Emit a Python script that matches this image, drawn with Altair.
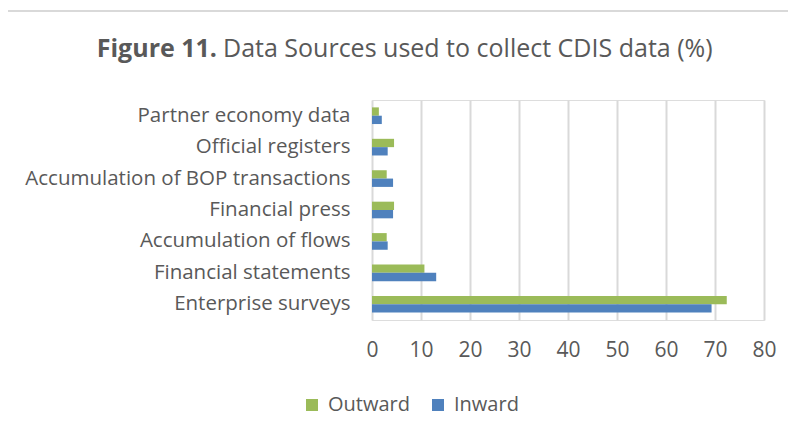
import altair as alt
import pandas as pd

categories = [
    "Partner economy data",
    "Official registers",
    "Accumulation of BOP transactions",
    "Financial press",
    "Accumulation of flows ",
    "Financial statements",
    "Enterprise surveys",
]
outward = [1.4, 4.5, 3.0, 4.5, 3.0, 10.7, 72.4]
inward = [2.0, 3.2, 4.3, 4.3, 3.2, 13.1, 69.3]
series = ["Outward", "Inward"]
colors = ["#9BBB59", "#4F81BD"]
x_ticks = [0, 10, 20, 30, 40, 50, 60, 70, 80]

rows = []
for c, o, i in zip(categories, outward, inward):
    rows.append({"category": c, "series": "Outward", "value": o})
    rows.append({"category": c, "series": "Inward", "value": i})
df = pd.DataFrame(rows)

FONT = "Open Sans"
GREY = "#595959"

bars = alt.Chart(df).mark_bar().encode(
    y=alt.Y("category:N", sort=categories,
            scale=alt.Scale(paddingInner=0.47, paddingOuter=0.235),
            axis=alt.Axis(title=None, domain=False, ticks=False, labelPadding=22,
                          labelFontSize=20.5, labelColor=GREY, labelFont=FONT,
                          labelLimit=400)),
    yOffset=alt.YOffset("series:N", sort=series,
                        scale=alt.Scale(domain=series, paddingInner=0, paddingOuter=0)),
    x=alt.X("value:Q", scale=alt.Scale(domain=[0, 80], nice=False),
            axis=alt.Axis(title=None, values=x_ticks, domain=False, ticks=False,
                          labelFlush=False, labelPadding=19, labelFontSize=21,
                          labelColor=GREY, labelFont=FONT, gridColor="#D9D9D9",
                          gridWidth=2)),
    color=alt.Color("series:N", scale=alt.Scale(domain=series, range=colors),
                    legend=alt.Legend(title=None, orient="none", direction="horizontal",
                                      legendX=-70, legendY=295, symbolType="square",
                                      symbolSize=144, symbolStrokeWidth=0,
                                      labelFontSize=20, labelColor=GREY, labelFont=FONT,
                                      columnPadding=18, labelOffset=6)),
)

title_df = pd.DataFrame({"t": ["x"]})
title_bold = alt.Chart(title_df).mark_text(
    text="Figure 11.", font=FONT, fontSize=25, fontWeight="bold", color=GREY,
    align="right", baseline="alphabetic"
).encode(x=alt.value(-155), y=alt.value(-43))
title_rest = alt.Chart(title_df).mark_text(
    text="Data Sources used to collect CDIS data (%)", font=FONT, fontSize=25,
    color=GREY, align="left", baseline="alphabetic"
).encode(x=alt.value(-149), y=alt.value(-43))

border_top = alt.Chart(title_df).mark_rule(color="#D9D9D9", strokeWidth=2).encode(
    x=alt.value(-365), x2=alt.value(430), y=alt.value(-89))
border_left = alt.Chart(title_df).mark_rule(color="#D9D9D9", strokeWidth=2).encode(
    x=alt.value(-365), y=alt.value(-89), y2=alt.value(340))

chart = alt.layer(border_top, border_left, bars, title_bold, title_rest).properties(
    width=392, height=220,
    autosize=alt.AutoSizeParams(type="none"),
    padding={"left": 364, "top": 92, "right": 24, "bottom": 110},
).configure_view(stroke=None).configure(background="white")

chart.save("out.html", embed_options={"renderer": "svg", "actions": False})
